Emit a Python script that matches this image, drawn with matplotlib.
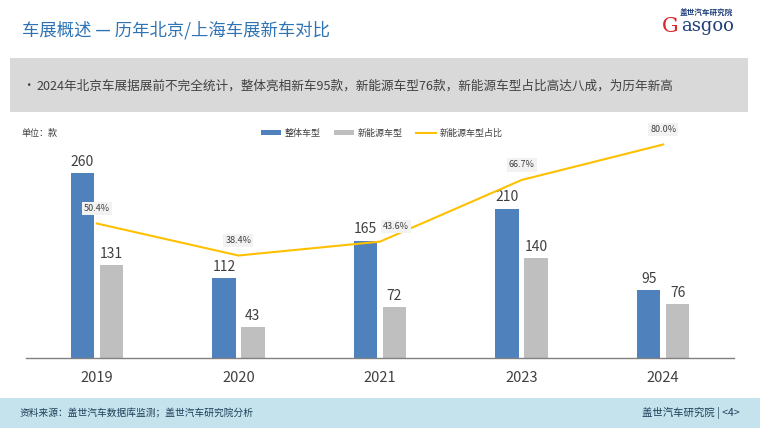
import matplotlib
matplotlib.use("Agg")
import matplotlib.pyplot as plt
from matplotlib.patches import Rectangle, Patch
from matplotlib.lines import Line2D

plt.rcParams['font.family'] = ['Noto Sans CJK SC', 'DejaVu Sans']

years = ['2019', '2020', '2021', '2023', '2024']
total_models = [260, 112, 165, 210, 95]
nev_models = [131, 43, 72, 140, 76]
nev_share = [50.4, 38.4, 43.6, 66.7, 80.0]

W, H = 760, 428
fig = plt.figure(figsize=(W / 100, H / 100), dpi=100)
fig.patch.set_facecolor('white')

def fx(px):
    return px / W

def fy(py):
    return 1 - py / H

# Header
fig.text(fx(22), fy(30), '车展概述 — 历年北京/上海车展新车对比', fontsize=12.5,
         color='#2E74B5', va='center', ha='left')
# Logo approximation
fig.text(fx(706), fy(13), '盖世汽车研究院', fontsize=5.5, color='#1F3F7A',
         va='center', ha='center', fontweight='bold')
fig.text(fx(670), fy(26), 'G', fontsize=15, color='#D9262B', va='center', ha='center',
         family='DejaVu Serif')
fig.text(fx(708), fy(26), 'asgoo', fontsize=13, color='#1F3F7A', va='center', ha='center',
         family='DejaVu Serif')

# Grey box
fig.patches.append(Rectangle((fx(10), fy(112)), fx(738), (112 - 58) / H,
                             transform=fig.transFigure, facecolor='#D9D9D9',
                             edgecolor='none', zorder=0))
fig.text(fx(22), fy(86), '•', fontsize=9, color='#404040', va='center', ha='left')
fig.text(fx(37), fy(86), '2024年北京车展据展前不完全统计，整体亮相新车95款，新能源车型76款，新能源车型占比高达八成，为历年新高',
         fontsize=9.1, color='#404040', va='center', ha='left')

# Footer
fig.patches.append(Rectangle((0, 0), 1, 30 / H, transform=fig.transFigure,
                             facecolor='#C5E3EC', edgecolor='none', zorder=0))
fig.text(fx(20), fy(413), '资料来源：盖世汽车数据库监测；盖世汽车研究院分析', fontsize=7,
         color='#1F3F5A', va='center', ha='left')
fig.text(fx(740), fy(413), '盖世汽车研究院 | <4>', fontsize=7.5,
         color='#1F3F5A', va='center', ha='right')

# Chart
left, right, top, base = 26, 734, 125, 358
ax = fig.add_axes([fx(left), fy(base), (right - left) / W, (base - top) / H])
ax.set_facecolor('none')
x = list(range(len(years)))
bw = 0.165
off = 0.102
ax.bar([i - off for i in x], total_models, width=bw, color='#4F81BD', zorder=2)
ax.bar([i + off for i in x], nev_models, width=bw, color='#BFBFBF', zorder=2)
ax.set_xlim(-0.5, len(years) - 0.5)
ax.set_ylim(0, 327.5)
for i in x:
    ax.text(i - off, total_models[i] + 6, str(total_models[i]), ha='center', va='bottom',
            fontsize=10, color='#404040', zorder=5)
    ax.text(i + off, nev_models[i] + 6, str(nev_models[i]), ha='center', va='bottom',
            fontsize=10, color='#404040', zorder=5)
ax.set_xticks(x)
ax.set_xticklabels(years, fontsize=10.5, color='#404040')
ax.tick_params(axis='x', length=0, pad=9)
ax.set_yticks([])
for s in ['top', 'right', 'left']:
    ax.spines[s].set_visible(False)
ax.spines['bottom'].set_color('#808080')
ax.spines['bottom'].set_linewidth(1)

ax2 = ax.twinx()
ax2.set_ylim(0, 87.3)
ax2.plot(x, nev_share, color='#FFC000', linewidth=1.5, zorder=4)
ax2.set_yticks([])
for s in ['top', 'right', 'left', 'bottom']:
    ax2.spines[s].set_visible(False)
label_dx = [0, 0, 16, 0, 0]
for i in x:
    ax2.annotate(f'{nev_share[i]:.1f}%', (i, nev_share[i]), xytext=(label_dx[i], 15),
                 textcoords='offset pixels', ha='center', va='center', fontsize=6.5,
                 color='#404040',
                 bbox=dict(facecolor='#F2F2F2', edgecolor='none', pad=1.5), zorder=6)

fig.text(fx(22), fy(133), '单位：款', fontsize=6.5, color='#404040', va='center', ha='left')
handles = [Patch(facecolor='#4F81BD'), Patch(facecolor='#BFBFBF'),
           Line2D([0], [0], color='#FFC000', linewidth=1.5)]
fig.legend(handles, ['整体车型', '新能源车型', '新能源车型占比'], loc='center',
           bbox_to_anchor=(fx(382), fy(133)), ncol=3, frameon=False, fontsize=6.5,
           handlelength=2.2, handleheight=0.6, columnspacing=1.5, handletextpad=0.4,
           labelcolor='#404040')

fig.savefig('out.png', dpi=100, facecolor='white')
